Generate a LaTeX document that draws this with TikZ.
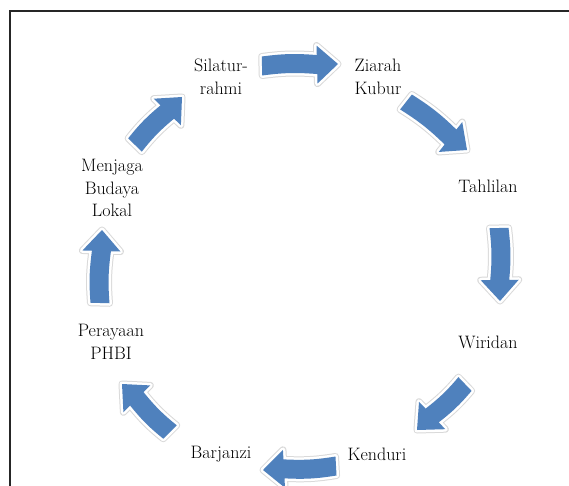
\documentclass[tikz,border=0pt]{standalone}
\usetikzlibrary{calc}
\definecolor{arrowblue}{RGB}{79,129,189}
\newcommand\cycarrow[2]{%
  \coordinate (Hb) at ($(#2)!21pt!(#1)$);
  \path[arr] ($(#1)!9.5pt!90:(#2)$) to[bend left=6] ($(Hb)!9.5pt!-90:(#1)$)
    -- ($(Hb)!19pt!-90:(#1)$) -- (#2) -- ($(Hb)!19pt!90:(#1)$)
    -- ($(Hb)!9.5pt!90:(#1)$) to[bend right=6] ($(#1)!9.5pt!-90:(#2)$) -- cycle;
}
\begin{document}
\begin{tikzpicture}[x=1pt,y=-1pt,
  lbl/.style={align=center, font=\fontsize{18}{22.5}\selectfont, inner sep=0pt},
  arr/.style={preaction={draw=black!15,line width=7pt,line join=round},
              draw=white, line width=5pt, line join=round,
              postaction={fill=arrowblue}}]
\useasboundingbox (0,0) rectangle (569,486);
\clip (0,0) rectangle (569,486);
\fill[white] (0,0) rectangle (569,486);
\draw[line width=2pt, black!85] (10,600) -- (10,11) -- (700,11);

\node[lbl] (sil) at (221,77) {Silatur-\\rahmi};
\node[lbl] (zia) at (378,77) {Ziarah\\Kubur};
\node[lbl] (tah) at (488,186) {Tahlilan};
\node[lbl] (wir) at (488,342) {Wiridan};
\node[lbl] (ken) at (377,454) {Kenduri};
\node[lbl] (bar) at (221,454) {Barjanzi};
\node[lbl] (per) at (111,342) {Perayaan\\PHBI};
\node[lbl] (men) at (112,188) {Menjaga\\Budaya\\Lokal};

\coordinate (a1t) at (262,66);  \coordinate (a1p) at (338,64);
\coordinate (a2t) at (406,102); \coordinate (a2p) at (467,150);
\coordinate (a3t) at (499,228); \coordinate (a3p) at (500,301);
\coordinate (a4t) at (465,384); \coordinate (a4p) at (417,430);
\coordinate (a5t) at (336,466); \coordinate (a5p) at (263,470);
\coordinate (a6t) at (170,432); \coordinate (a6p) at (122,384);
\coordinate (a7t) at (100,303); \coordinate (a7p) at (102,230);
\coordinate (a8t) at (135,145); \coordinate (a8p) at (182,97);

\cycarrow{a1t}{a1p}
\cycarrow{a2t}{a2p}
\cycarrow{a3t}{a3p}
\cycarrow{a4t}{a4p}
\cycarrow{a5t}{a5p}
\cycarrow{a6t}{a6p}
\cycarrow{a7t}{a7p}
\cycarrow{a8t}{a8p}
\end{tikzpicture}
\end{document}
